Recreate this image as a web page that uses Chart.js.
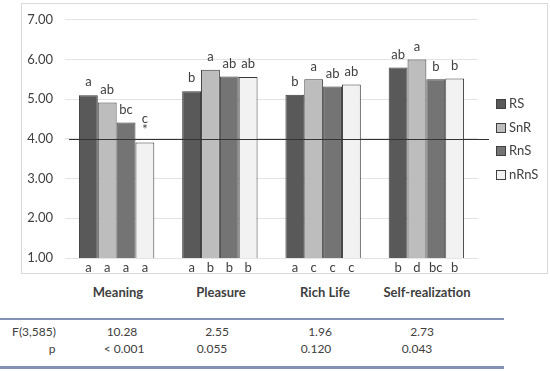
<!DOCTYPE html>
<html>
<head>
<meta charset="utf-8">
<script src="https://cdn.jsdelivr.net/npm/chart.js@4.4.0/dist/chart.umd.min.js"></script>
<style>
  body { margin: 0; background: #fff; font-family: Lato, "Open Sans", sans-serif; color: #404040; }
  #wrap { position: relative; width: 550px; height: 371px; }
  #frame { position: absolute; left: 21px; top: 3px; width: 525px; height: 269px; border: 1px solid #d9d9d9; }
  #chartBox { position: absolute; left: 0; top: 0; width: 550px; height: 280px; }
  .legend-item { position: absolute; left: 496px; font-size: 13px; line-height: 16px; }
  .legend-item span.sw { display: inline-block; width: 8px; height: 8px; border: 1px solid #404040; margin-right: 3px; vertical-align: -1px; }
  .cell { position: absolute; font-size: 12px; line-height: 14px; transform: translateX(-50%); white-space: nowrap; }
  .cat { font-weight: bold; font-size: 13px; }
  .rule { position: absolute; left: 0; width: 504px; background: #8291b4; }
</style>
</head>
<body>
<div id="wrap">
  <div id="frame"></div>
  <div id="chartBox"><canvas id="chart"></canvas></div>
  <div id="legend"></div>
  <div id="table"></div>
</div>
<script>
// --- data ---
const categories = ['Meaning', 'Pleasure', 'Rich Life', 'Self-realization'];
const groups = ['RS', 'SnR', 'RnS', 'nRnS'];
const colors = ['#595959', '#bdbdbd', '#747474', '#f2f2f2'];

const rsValues   = [5.10, 5.20, 5.11, 5.80];
const snrValues  = [4.92, 5.74, 5.50, 6.00];
const rnsValues  = [4.41, 5.57, 5.32, 5.50];
const nrnsValues = [3.91, 5.56, 5.37, 5.52];

// letters above each bar (per group, per category)
const rsTop   = ['a', 'b', 'b', 'ab'];
const snrTop  = ['ab', 'a', 'a', 'a'];
const rnsTop  = ['bc', 'ab', 'ab', 'b'];
const nrnsTop = ['c\n*', 'ab', 'ab', 'b'];

// letters under each bar
const rsBottom   = ['a', 'a', 'a', 'b'];
const snrBottom  = ['a', 'b', 'c', 'd'];
const rnsBottom  = ['a', 'b', 'c', 'bc'];
const nrnsBottom = ['a', 'b', 'c', 'b'];

const yTicks = [1, 2, 3, 4, 5, 6, 7];
const midpoint = 4;

const fStats = ['10.28', '2.55', '1.96', '2.73'];
const pStats = ['< 0.001', '0.055', '0.120', '0.043'];

const seriesValues = [rsValues, snrValues, rnsValues, nrnsValues];
const topLetters = [rsTop, snrTop, rnsTop, nrnsTop];
const bottomLetters = [rsBottom, snrBottom, rnsBottom, nrnsBottom];

// plugin: letters above/below bars + the 4.00 reference line
const annotate = {
  id: 'annotate',
  afterDatasetsDraw(chart) {
    const ctx = chart.ctx;
    const area = chart.chartArea;
    const y = chart.scales.y;

    // reference line
    const ly = Math.round(y.getPixelForValue(midpoint)) + 0.5;
    ctx.save();
    ctx.strokeStyle = '#333';
    ctx.lineWidth = 1.2;
    ctx.beginPath();
    ctx.moveTo(area.left + 4, ly);
    ctx.lineTo(area.right + 11, ly);
    ctx.stroke();

    ctx.fillStyle = '#404040';
    ctx.font = '13px Lato, "Open Sans", sans-serif';
    ctx.textAlign = 'center';
    ctx.textBaseline = 'middle';
    chart.data.datasets.forEach((ds, di) => {
      const meta = chart.getDatasetMeta(di);
      meta.data.forEach((bar, i) => {
        const lines = topLetters[di][i].split('\n');
        lines.forEach((txt, k) => {
          const off = 13 + (lines.length - 1 - k) * 11;
          ctx.fillText(txt, bar.x, bar.y - off);
        });
        ctx.fillText(bottomLetters[di][i], bar.x, area.bottom + 10);
      });
    });
    ctx.restore();
  }
};

new Chart(document.getElementById('chart'), {
  type: 'bar',
  data: {
    labels: categories,
    datasets: groups.map((g, i) => ({
      label: g,
      data: seriesValues[i],
      backgroundColor: colors[i],
      borderColor: '#3a3a3a',
      borderWidth: 1,
      borderSkipped: false,
      categoryPercentage: 0.73,
      barPercentage: 1.0
    }))
  },
  options: {
    responsive: true,
    maintainAspectRatio: false,
    animation: false,
    layout: { padding: { top: 8, right: 72, bottom: 22, left: 0 } },
    plugins: { legend: { display: false }, tooltip: { enabled: false } },
    scales: {
      x: { display: false },
      y: {
        min: 1,
        max: 7,
        afterFit: (s) => { s.width = 65; },
        afterBuildTicks: (s) => { s.ticks = yTicks.map(v => ({ value: v })); },
        border: { display: false },
        grid: { color: '#e3e3e3', drawTicks: false },
        ticks: {
          padding: 12,
          color: '#404040',
          font: { size: 13, family: 'Lato, "Open Sans", sans-serif' },
          callback: (v) => Number(v).toFixed(2)
        }
      }
    }
  },
  plugins: [annotate]
});

// legend
const legend = document.getElementById('legend');
groups.forEach((g, i) => {
  const d = document.createElement('div');
  d.className = 'legend-item';
  d.style.top = (95 + i * 23.7) + 'px';
  d.innerHTML = `<span class="sw" style="background:${colors[i]}"></span>${g}`;
  legend.appendChild(d);
});

// stats table under the chart
const table = document.getElementById('table');
const catX = [118, 221, 325, 427];
const fX = [122, 217, 320, 422];
const pX = [124, 212, 316, 417];
function cell(txt, x, y, cls) {
  const d = document.createElement('div');
  d.className = 'cell' + (cls ? ' ' + cls : '');
  d.style.left = x + 'px';
  d.style.top = y + 'px';
  d.textContent = txt;
  table.appendChild(d);
}
categories.forEach((c, i) => cell(c, catX[i], 285, 'cat'));
cell('F(3,585)', 34, 325);
cell('p', 52, 342);
fStats.forEach((t, i) => cell(t, fX[i], 325));
pStats.forEach((t, i) => cell(t, pX[i], 342));
const r1 = document.createElement('div'); r1.className = 'rule'; r1.style.top = '318px'; r1.style.height = '2px'; table.appendChild(r1);
const r2 = document.createElement('div'); r2.className = 'rule'; r2.style.top = '366px'; r2.style.height = '3px'; table.appendChild(r2);
</script>
</body>
</html>
